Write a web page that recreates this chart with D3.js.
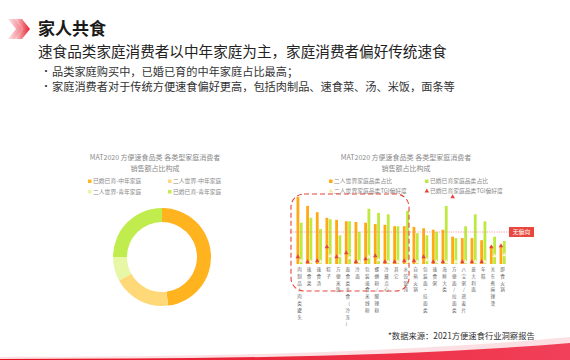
<!DOCTYPE html>
<html><head><meta charset="utf-8">
<script src="https://cdn.jsdelivr.net/npm/d3@7"></script>
<style>
html,body{margin:0;padding:0;background:#fff;}
svg{display:block;font-family:"Noto Sans CJK SC","Noto Sans",sans-serif;}
</style></head>
<body><svg id="c" width="570" height="360"></svg>
<script>
// ---------- data ----------
const title = "家人共食";
const subtitle = "速食品类家庭消费者以中年家庭为主，家庭消费者偏好传统速食";
const bullets = ["品类家庭购买中，已婚已育的中年家庭占比最高；",
                 "家庭消费者对于传统方便速食偏好更高，包括肉制品、速食菜、汤、米饭，面条等"];
const chartTitle = ["MAT2020 方便速食品类 各类型家庭消费者", "销售额占比构成"];

const donutLabels = ["已婚已育-中年家庭", "二人世界-中年家庭", "二人世界-青年家庭", "已婚已育-青年家庭"];
const donutValues = [48, 19, 8, 25];

const categories = ["肉制品/肉类罐头","速食菜","速食汤","粽子","方便米饭","面食类主食（冷冻）","冷面",
  "包装速食米线粉","螺蛳粉/酸辣粉","冷藏点心","其它","水饺馄饨","自热火锅","包装面·挂面类","速食粥",
  "海鲜大类","方便面/拉面类","八宝粥/燕麦片","意大利面","年糕","关东煮麻辣烫","即食火锅"];
const coupleShare  = [9.6,8.3,7.4,6.6,6.3,6.1,6.0,5.9,5.7,5.6,5.4,5.4,5.3,5.1,4.9,4.9,3.9,3.7,3.7,3.4,2.6,2.6];
const familyShare  = [5.9,6.6,5.0,6.4,4.1,6.1,4.6,7.9,7.3,7.1,5.4,7.6,4.4,4.1,4.6,8.3,3.7,5.4,7.1,6.1,3.9,3.3];
const coupleTGI    = [81.9,80,80,85,85,83.8,80,84.4,82.5,80,80,80,80,82.5,80,80,80,80,80,80,85,85.6];
const familyTGI    = [84.4,80.6,81.9,90.6,84.4,86.9,81.3,83.1,85,81.3,81.3,81.9,81.9,84.4,80,80,121.9,80,80,80,90.6,91.3];
const barLegend = ["二人世界家庭品类占比","已婚已育家庭品类占比","二人世界家庭品类TGI偏好度","已婚已育家庭品类TGI偏好度"];
const tgiBase = 100;
const source = "*数据来源：2021方便速食行业洞察报告";

// ---------- drawing ----------
const svg = d3.select("#c");
const defs = svg.append("defs");
const g1 = defs.append("linearGradient").attr("id","chev").attr("x1","0").attr("x2","1");
g1.append("stop").attr("offset","0").attr("stop-color","#fbd0d4");
g1.append("stop").attr("offset","1").attr("stop-color","#e5202e");
const g2 = defs.append("linearGradient").attr("id","wave").attr("x1","0").attr("x2","1");
g2.append("stop").attr("offset","0").attr("stop-color","#e3131f");
g2.append("stop").attr("offset","1").attr("stop-color","#f2405a");

// header icon
const ic = svg.append("g").attr("fill","url(#chev)");
ic.append("path").attr("d","M8,19 L15,19 L23,29 L15,39 L8,39 L16,29 Z").attr("opacity",0.6);
ic.append("path").attr("d","M15,19 L22,19 L30,29 L22,39 L15,39 L23,29 Z");

svg.append("text").attr("x",38).attr("y",35).attr("font-size",17).attr("font-weight",700)
  .attr("fill","#1a1a1a").text(title);
svg.append("text").attr("x",38).attr("y",57).attr("font-size",14.6).attr("fill","#222").text(subtitle);
bullets.forEach((b,i)=>{
  svg.append("text").attr("x",41).attr("y",75+i*15).attr("font-size",10).attr("fill","#333").text("•");
  svg.append("text").attr("x",52).attr("y",76+i*15).attr("font-size",11.2).attr("fill","#333").text(b);
});

// ---- donut ----
function chartTitleAt(cx){
  chartTitle.forEach((t,i)=>svg.append("text").attr("x",cx).attr("y",160+i*10.5)
    .attr("text-anchor","middle").attr("font-size",7).attr("fill","#8a8a8a").text(t));
}
chartTitleAt(155);
const donutColors = ["#ffb31f","#ffd878","#e6f8a6","#c1ec4d"];
donutLabels.forEach((l,i)=>{
  const x = 88 + (i%2)*80, y = 183 + Math.floor(i/2)*10.5;
  svg.append("rect").attr("x",x).attr("y",y-3.5).attr("width",3.5).attr("height",3.5).attr("fill",donutColors[i]);
  svg.append("text").attr("x",x+5).attr("y",y).attr("font-size",5.8).attr("fill","#8a8a8a").text(l);
});
const pie = d3.pie().sort(null).value(d=>d);
const arc = d3.arc().innerRadius(35).outerRadius(49);
svg.append("g").attr("transform","translate(162,257)")
  .selectAll("path").data(pie(donutValues)).join("path")
  .attr("d",arc).attr("fill",(d,i)=>donutColors[i]);

// ---- bar chart ----
chartTitleAt(406);
const legColors = ["#ffaa12","#bdea3f","#fbe7a0","#e8433a"];
barLegend.forEach((l,i)=>{
  const x = 329 + (i%2)*96, y = 183 + Math.floor(i/2)*10;
  if(i<2) svg.append("rect").attr("x",x).attr("y",y-3.5).attr("width",3.5).attr("height",3.5).attr("fill",legColors[i]);
  else svg.append("path").attr("d",d3.symbol(d3.symbolTriangle,9)()).attr("transform",`translate(${x+1.8},${y-1.8})`).attr("fill",legColors[i]);
  svg.append("text").attr("x",x+5).attr("y",y).attr("font-size",5.8).attr("fill","#8a8a8a").text(l);
});

const x = d3.scaleBand().domain(categories).range([294, 294+22*9.67]);
const y = d3.scaleLinear().domain([0,10]).range([264,194]);
const yT = d3.scaleLinear().domain([80,120]).range([264,200]);

const bars = svg.append("g");
bars.selectAll(".o").data(categories).join("rect")
  .attr("x",d=>x(d)+2.5).attr("width",2.8)
  .attr("y",(d,i)=>y(coupleShare[i])).attr("height",(d,i)=>y(0)-y(coupleShare[i]))
  .attr("fill","#ffaa12");
bars.selectAll(".gr").data(categories).join("rect")
  .attr("x",d=>x(d)+5.8).attr("width",2.8)
  .attr("y",(d,i)=>y(familyShare[i])).attr("height",(d,i)=>y(0)-y(familyShare[i]))
  .attr("fill","#bdea3f");

// reference line
svg.append("line").attr("x1",290).attr("x2",509).attr("y1",yT(tgiBase)).attr("y2",yT(tgiBase))
  .attr("stroke","#f08a8a").attr("stroke-width",0.8).attr("stroke-dasharray","1.2,1.2");
svg.append("rect").attr("x",509).attr("y",yT(tgiBase)-5).attr("width",25).attr("height",10).attr("fill","#e8473d");
svg.append("text").attr("x",521.5).attr("y",yT(tgiBase)+2).attr("text-anchor","middle")
  .attr("font-size",5.8).attr("fill","#fff").text("无偏向");

// TGI markers
const tri = d3.symbol(d3.symbolTriangle,9)();
svg.append("g").selectAll("path").data(categories).join("path")
  .attr("d",tri).attr("fill","#fff8e0").attr("opacity",0.9)
  .attr("transform",(d,i)=>`translate(${x(d)+7.2},${Math.min(yT(coupleTGI[i]),262)})`);
svg.append("g").selectAll("path").data(categories).join("path")
  .attr("d",tri).attr("fill","#e8433a")
  .attr("transform",(d,i)=>`translate(${x(d)+3.9},${Math.min(yT(familyTGI[i]),262)})`);

// category labels (vertical, one glyph per line)
const lab = svg.append("g").attr("font-size",4.6).attr("fill","#666");
categories.forEach(c=>{
  const t = lab.append("text").attr("text-anchor","middle");
  [...c].forEach((ch,j)=>t.append("tspan").attr("x",x(c)+5.5).attr("y",271+j*6.8).text(ch));
});

// dashed highlight
svg.append("rect").attr("x",291).attr("y",194).attr("width",118).attr("height",97).attr("rx",13)
  .attr("fill","none").attr("stroke","#e8433a").attr("stroke-width",1.1).attr("stroke-dasharray","5,3");

// footer
svg.append("text").attr("x",388).attr("y",339).attr("font-size",8.3).attr("fill","#333").text(source);
svg.append("path").attr("d","M0,360 L0,357 C150,357 380,355 570,337 L570,360 Z").attr("fill","#f9c9cf").attr("opacity",0.6);
svg.append("path").attr("d","M0,360 L0,359 C200,359 400,357 570,343 L570,360 Z").attr("fill","url(#wave)");
</script></body></html>
